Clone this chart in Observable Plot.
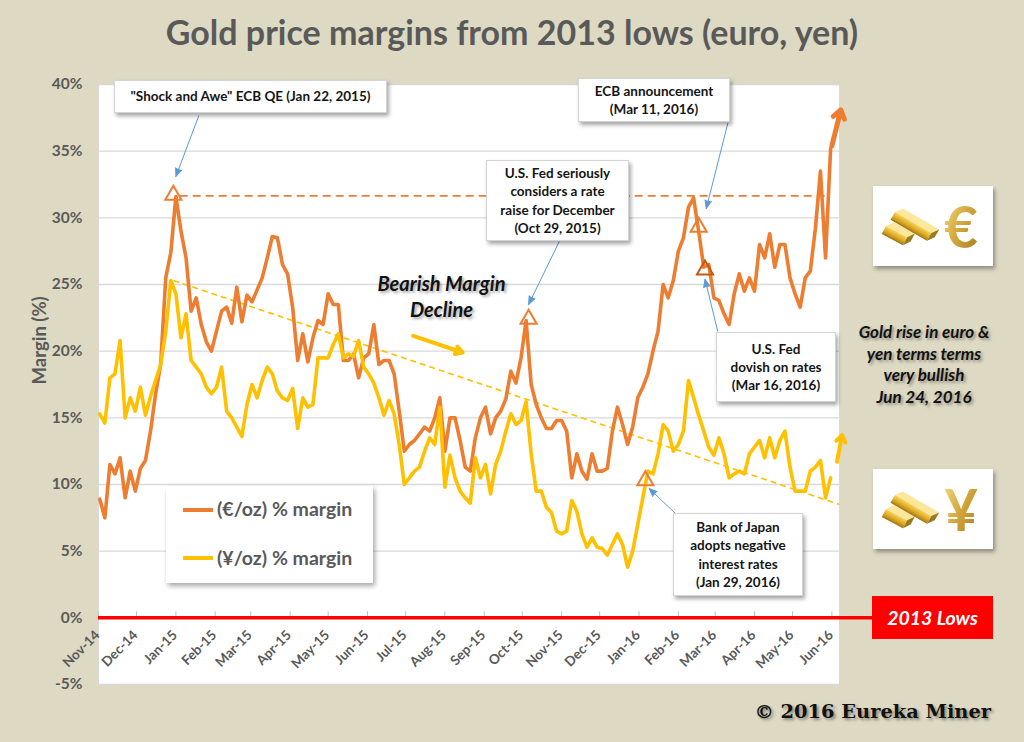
<!DOCTYPE html>
<html>
<head>
<meta charset="utf-8">
<script src="https://cdn.jsdelivr.net/npm/d3@7"></script>
<script src="https://cdn.jsdelivr.net/npm/@observablehq/plot@0.6"></script>
<style>
  html, body { margin: 0; padding: 0; background: #DDD9C3; }
  #wrap { position: relative; width: 1024px; height: 742px; overflow: hidden; background: #DDD9C3; font-family: Lato, "Open Sans", sans-serif; }
  #wrap > svg { position: absolute; left: 0; top: 0; }
  .abs { position: absolute; }
  #title { left: 0; width: 1024px; top: 15px; text-align: center; font-weight: 700; font-size: 34px; line-height: 34px; color: #595959; white-space: nowrap; }
  .callout { position: absolute; background: #fff; border: 1px solid #D4D4D4; box-shadow: 2px 3px 4px rgba(0,0,0,0.35); font-weight: 700; font-size: 13.5px; color: #151515; text-align: center; line-height: 18.3px; display: flex; align-items: center; justify-content: center; box-sizing: border-box; white-space: nowrap; }
  .shadowtxt { text-shadow: 2px 2px 3px rgba(0,0,0,0.35); color: #111; font-weight: 700; font-style: italic; text-align: center; white-space: nowrap; }
  #legend { left: 166px; top: 486px; width: 207px; height: 97px; background: #fff; box-shadow: 2px 3px 5px rgba(0,0,0,0.35); }
  #legend .sw { position: absolute; left: 17px; width: 30px; height: 4px; }
  #legend .lt { position: absolute; left: 51px; font-size: 19.5px; line-height: 19.5px; font-weight: 700; color: #595959; white-space: nowrap; }
  .imgbox { position: absolute; width: 120px; height: 80px; background: #fff; box-shadow: 2px 3px 4px rgba(0,0,0,0.35); }
  #lows { left: 872px; top: 596px; width: 121px; height: 43px; background: #FF0000; color: #fff; font-weight: 700; font-style: italic; font-size: 19.5px; display: flex; align-items: center; justify-content: center; }
  #copy { right: 33px; top: 702px; font-family: "DejaVu Serif", "Liberation Serif", serif; font-weight: 700; font-size: 19.4px; line-height: 19px; color: #111; text-shadow: 2px 2px 3px rgba(0,0,0,0.4); white-space: nowrap; }
</style>
</head>
<body>
<div id="wrap"></div>
<script>
// ---------- data ----------
const seriesStart = "2014-11-25";   // first sample, samples every 4 days
const euroMargin = [
  8.9, 7.5, 11.5, 10.8, 12.0, 9.0, 11.0, 9.5, 11.2, 11.8,
  14.0, 16.8, 19.0, 25.5, 27.4, 31.6, 29.0, 27.0, 23.0, 24.0,
  22.0, 20.7, 20.0, 21.5, 23.0, 23.3, 22.1, 24.8, 22.2, 24.2,
  23.7, 24.6, 25.5, 27.0, 28.6, 28.5, 26.5, 25.8, 23.3, 19.3,
  21.3, 19.2, 21.0, 22.3, 22.0, 24.3, 23.5, 23.5, 19.3, 19.3,
  19.8, 18.0, 19.5, 19.8, 22.0, 19.0, 19.3, 19.3, 18.3, 15.5,
  12.5, 13.0, 13.3, 13.8, 14.3, 14.0, 15.0, 16.5, 12.5, 15.0,
  15.0, 13.3, 11.3, 11.0, 13.5, 15.0, 15.8, 13.8, 15.0, 15.5,
  16.4, 18.5, 17.6, 19.5, 22.3, 17.5, 16.0, 15.0, 14.2, 14.2,
  14.8, 14.8, 14.0, 10.5, 12.3, 11.0, 10.4, 12.3, 11.0, 11.0,
  11.2, 14.0, 15.8, 14.5, 13.0, 14.3, 16.5, 17.3, 18.3, 20.0,
  21.5, 25.0, 24.0, 25.3, 27.5, 28.5, 30.8, 31.5, 29.0, 26.3,
  26.5, 24.0, 23.8, 22.8, 22.0, 24.3, 25.8, 24.5, 25.5, 24.5,
  28.0, 27.0, 28.8, 26.3, 28.0, 28.0, 25.5, 24.3, 23.3, 25.5,
  26.0, 29.2, 33.5, 27.0, 35.2
];
const yenMargin = [
  15.3, 14.6, 18.0, 18.3, 20.8, 15.0, 16.5, 15.5, 17.3, 15.2,
  16.6, 17.8, 19.0, 21.5, 25.3, 24.3, 21.0, 22.8, 19.3, 18.8,
  18.3, 17.3, 16.8, 17.3, 18.8, 15.5, 15.0, 14.3, 13.6, 16.0,
  17.5, 16.5, 17.8, 18.8, 18.3, 17.0, 16.5, 16.3, 17.2, 14.2,
  16.5, 15.8, 16.0, 19.5, 19.5, 19.5, 20.5, 21.3, 19.5, 19.8,
  19.6, 20.8, 18.8, 18.3, 17.6, 16.5, 15.2, 16.3, 15.3, 13.0,
  10.0, 10.5, 11.0, 11.3, 12.5, 13.5, 13.0, 15.8, 9.8, 12.2,
  10.5, 9.5, 9.0, 8.6, 12.0, 10.5, 11.5, 9.3, 11.5, 12.5,
  14.0, 15.3, 14.5, 14.8, 16.2, 12.3, 9.5, 9.5, 8.3, 7.9,
  6.5, 6.3, 6.5, 8.8, 8.0, 6.3, 5.3, 6.0, 5.3, 5.2,
  4.7, 5.5, 6.3, 5.5, 3.8, 5.0, 7.0, 9.0, 11.0, 10.8,
  12.3, 14.5, 14.0, 12.5, 13.0, 14.0, 17.8, 16.5, 15.2, 14.0,
  12.8, 12.2, 13.5, 12.3, 10.5, 10.8, 11.0, 10.8, 12.3, 12.8,
  13.3, 12.0, 13.5, 12.0, 13.3, 14.0, 11.3, 9.5, 9.5, 9.5,
  11.0, 11.3, 11.8, 9.0, 10.5
];
const yTicks = [-5, 0, 5, 10, 15, 20, 25, 30, 35, 40];
const xTickLabels = ["Nov-14","Dec-14","Jan-15","Feb-15","Mar-15","Apr-15","May-15","Jun-15","Jul-15","Aug-15",
                     "Sep-15","Oct-15","Nov-15","Dec-15","Jan-16","Feb-16","Mar-16","Apr-16","May-16","Jun-16"];
const xDomain = ["2014-11-24", "2016-06-30"];
const events = [
  {date: "2015-01-22", value: 31.7, color: "#ED7D31"},
  {date: "2015-10-29", value: 22.4, color: "#ED7D31"},
  {date: "2016-03-11", value: 29.3, color: "#ED7D31"},
  {date: "2016-03-16", value: 26.1, color: "#C55A11"},
  {date: "2016-01-29", value: 10.3, color: "#ED7D31"}
];
const calloutArrows = [
  {x1: "2015-02-11", y1: 37.65, x2: "2015-01-24", y2: 33.1},
  {x1: "2015-11-22", y1: 28.2, x2: "2015-10-29", y2: 23.5},
  {x1: "2016-04-03", y1: 37.1, x2: "2016-03-17", y2: 30.7},
  {x1: "2016-03-26", y1: 21.5, x2: "2016-03-16", y2: 25.4},
  {x1: "2016-02-22", y1: 7.8, x2: "2016-02-01", y2: 9.7}
];
const euroHighLine = {x1: "2015-01-27", x2: "2016-06-20", value: 31.65};
const yenTrend = {x1: "2015-01-22", y1: 25.3, x2: "2016-06-30", y2: 8.5};
const bearishArrow = {x1: "2015-07-30", y1: 21.15, x2: "2015-09-07", y2: 19.9};
const euroUpArrow = {x1: "2016-06-24", y1: 35.4, x2: "2016-07-01", y2: 38.1};
const yenUpArrow = {x1: "2016-06-28", y1: 11.7, x2: "2016-07-02", y2: 13.7};

// ---------- build tables ----------
const parse = s => new Date(s + "T00:00:00Z");
const t0 = parse(seriesStart);
const sampleDates = euroMargin.map((_, i) => d3.utcDay.offset(t0, 4 * i));
const euroRows = euroMargin.map((v, i) => ({date: sampleDates[i], value: v}));
const yenRows = yenMargin.map((v, i) => ({date: sampleDates[i], value: v}));
const monthParse = d3.utcParse("%b-%y");
const xTicks = xTickLabels.map(s => { const d = monthParse(s); return {date: new Date(Date.UTC(d.getUTCFullYear(), d.getUTCMonth(), 24)), label: s}; });
const ev = events.map(e => ({...e, date: parse(e.date)}));
const toSeg = a => ({x1: parse(a.x1), y1: a.y1, x2: parse(a.x2), y2: a.y2});
const gray = "#595959";

const chart = Plot.plot({
  width: 1024, height: 742,
  marginLeft: 98, marginRight: 185, marginTop: 84, marginBottom: 58,
  style: {background: "transparent", fontFamily: "Lato, sans-serif", overflow: "visible"},
  x: {type: "utc", domain: xDomain.map(parse), axis: null},
  y: {domain: [-5, 40], axis: null},
  color: {type: "identity"},
  marks: [
    Plot.frame({fill: "white", stroke: "#D9D9D9"}),
    Plot.ruleY(yTicks.filter(d => d !== 0), {stroke: "#D9D9D9", strokeWidth: 1.3}),
    Plot.link([yenTrend].map(toSeg), {x1: "x1", y1: "y1", x2: "x2", y2: "y2", stroke: "#FFC000", strokeWidth: 1.6, strokeDasharray: "6,4"}),
    Plot.link([euroHighLine], {x1: d => parse(d.x1), x2: d => parse(d.x2), y1: "value", y2: "value", stroke: "#ED7D31", strokeWidth: 1.8, strokeDasharray: "8,5"}),
    Plot.ruleX(xTicks, {x: "date", y1: () => 0, y2: () => 0, insetTop: -6, insetBottom: 0, stroke: "#BFBFBF"}),
    Plot.line(euroRows, {x: "date", y: "value", stroke: "#ED7D31", strokeWidth: 3.6}),
    Plot.line(yenRows, {x: "date", y: "value", stroke: "#FFC000", strokeWidth: 3.6}),
    Plot.ruleY([0], {stroke: "#FF0000", strokeWidth: 3.5, insetRight: -33}),
    Plot.text(xTicks, {x: "date", y: () => 0, text: "label", rotate: -45, textAnchor: "end", lineAnchor: "middle", dx: -1, dy: 15, fontSize: 13.5, fontWeight: "bold", fill: gray}),
    Plot.text(yTicks, {y: d => d, frameAnchor: "left", text: d => d + "%", textAnchor: "end", dx: -16, fontSize: 15.5, fontWeight: "bold", fill: gray}),
    Plot.text(["Margin (%)"], {frameAnchor: "left", dx: -58, rotate: -90, fontSize: 18.5, fontWeight: "bold", fill: gray}),
    Plot.dot(ev, {x: "date", y: "value", symbol: "triangle", r: 6, stroke: "color", strokeWidth: 2, fill: "none"}),
    Plot.arrow(calloutArrows.map(toSeg), {x1: "x1", y1: "y1", x2: "x2", y2: "y2", stroke: "#5B9BD5", fill: "#5B9BD5", strokeWidth: 1, headLength: 13, headAngle: 45}),
    Plot.arrow([bearishArrow].map(toSeg), {x1: "x1", y1: "y1", x2: "x2", y2: "y2", stroke: "#FFC000", fill: "#FFC000", strokeWidth: 4, headLength: 3, headAngle: 60}),
    Plot.arrow([euroUpArrow].map(toSeg), {x1: "x1", y1: "y1", x2: "x2", y2: "y2", stroke: "#ED7D31", fill: "#ED7D31", strokeWidth: 5, headLength: 3, headAngle: 70}),
    Plot.arrow([yenUpArrow].map(toSeg), {x1: "x1", y1: "y1", x2: "x2", y2: "y2", stroke: "#FFC000", fill: "#FFC000", strokeWidth: 4, headLength: 3, headAngle: 70})
  ]
});

const wrap = document.getElementById("wrap");
wrap.appendChild(chart);

function add(html) { wrap.insertAdjacentHTML("beforeend", html); }

add(`<div id="title" class="abs">Gold price margins from 2013 lows (euro, yen)</div>`);

// callouts
add(`<div class="callout" style="left:114px;top:80px;width:273px;height:33px;">"Shock and Awe" ECB QE (Jan 22, 2015)</div>`);
add(`<div class="callout" style="left:486px;top:160px;width:143px;height:81px;">U.S. Fed seriously<br>considers a rate<br>raise for December<br>(Oct 29, 2015)</div>`);
add(`<div class="callout" style="left:578px;top:78px;width:152px;height:44px;">ECB announcement<br>(Mar 11, 2016)</div>`);
add(`<div class="callout" style="left:716px;top:332px;width:120px;height:70px;">U.S. Fed<br>dovish on rates<br>(Mar 16, 2016)</div>`);
add(`<div class="callout" style="left:673px;top:513px;width:130px;height:83px;">Bank of Japan<br>adopts negative<br>interest rates<br>(Jan 29, 2016)</div>`);

add(`<div class="abs shadowtxt" style="left:340px;top:271px;width:203px;font-size:20px;line-height:25.5px;">Bearish Margin<br>Decline</div>`);
add(`<div class="abs shadowtxt" style="left:846px;top:321px;width:156px;font-size:17px;line-height:21.5px;">Gold rise in euro &amp;<br>yen terms terms<br>very bullish<br>Jun 24, 2016</div>`);

// legend
add(`<div id="legend" class="abs">
  <div class="sw" style="top:22px;background:#ED7D31;"></div><div class="lt" style="top:13px;">(€/oz) % margin</div>
  <div class="sw" style="top:70px;background:#FFC000;"></div><div class="lt" style="top:62px;">(¥/oz) % margin</div>
</div>`);

add(`<div id="lows" class="abs">2013 Lows</div>`);
add(`<div id="copy" class="abs">© 2016 Eureka Miner</div>`);

// gold bar pictures
function goldBox(top, glyph, gid) {
  const bar = (tx, ty, rot, L) => `
    <g transform="translate(${tx},${ty}) rotate(${rot})">
      <polygon points="0,0 ${L},0 ${L+5},-7 5,-7" fill="#FCE79A"/>
      <rect x="0" y="0" width="${L}" height="9" fill="url(#bar${gid})"/>
      <polygon points="${L},0 ${L+5},-7 ${L+5},2 ${L},9" fill="#9C7A1E"/>
    </g>`;
  return `<div class="imgbox" style="left:873px;top:${top}px;">
    <svg width="120" height="80" viewBox="0 0 120 80">
      <defs>
        <linearGradient id="bar${gid}" x1="0" y1="0" x2="0" y2="1">
          <stop offset="0" stop-color="#F8D55C"/><stop offset="0.6" stop-color="#D9A520"/><stop offset="1" stop-color="#9E7412"/>
        </linearGradient>
        <linearGradient id="gly${gid}" x1="0" y1="0" x2="1" y2="1">
          <stop offset="0" stop-color="#F6E08A"/><stop offset="0.5" stop-color="#D4A63A"/><stop offset="1" stop-color="#A07A22"/>
        </linearGradient>
      </defs>
      ${bar(13, 40, 28, 24)}
      ${bar(22, 26, 30, 42)}
      <text x="88" y="62" text-anchor="middle" font-family="Lato, sans-serif" font-weight="700" font-size="58" fill="url(#gly${gid})">${glyph}</text>
    </svg></div>`;
}
add(goldBox(186, "€", "e"));
add(goldBox(469, "¥", "y"));
</script>
</body>
</html>
